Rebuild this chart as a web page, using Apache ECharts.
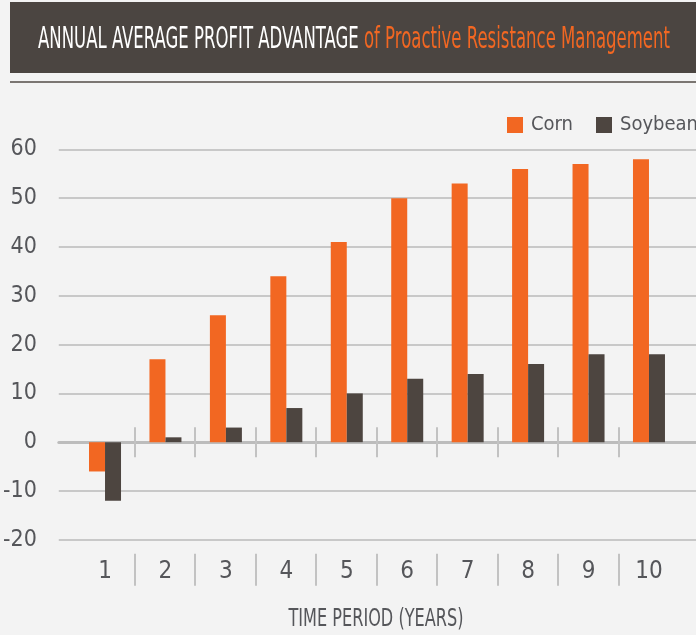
<!DOCTYPE html>
<html>
<head>
<meta charset="utf-8">
<script src="https://cdn.jsdelivr.net/npm/echarts@6/dist/echarts.min.js"></script>
<style>
  html, body {margin: 0; padding: 0; background: #f3f3f3;}
  #main {width: 696px; height: 635px;}
</style>
</head>
<body>
<div id="main"></div>
<script>
// data
let years = ['1', '2', '3', '4', '5', '6', '7', '8', '9', '10'];
let corn = [-6, 17, 26, 34, 41, 50, 53, 56, 57, 58];
let soybeans = [-12, 1, 3, 7, 10, 13, 14, 16, 18, 18];
let yMin = -20, yMax = 60, yStep = 10;

let titleWhite = 'ANNUAL AVERAGE PROFIT ADVANTAGE';
let titleOrange = 'of Proactive Resistance Management';
let xName = 'TIME PERIOD (YEARS)';

let narrow = "'Liberation Sans Narrow', 'DejaVu Sans Condensed', 'Roboto', sans-serif";
let orange = '#f26722';
let brown = '#4d4540';
let grey = '#55565a';
let lineGrey = '#c8c8c8';

// measure text so the condensed headings can be squeezed to their width
let ctx = document.createElement('canvas').getContext('2d');
function textWidth(str, size) {
    ctx.font = size + 'px ' + narrow;
    return ctx.measureText(str).width;
}
let titleSize = 31;
let titleW = textWidth(titleWhite + ' ' + titleOrange, titleSize);
let titleScale = (670 - 38) / titleW;
let nameSize = 25;
let nameScale = (464 - 289) / textWidth(xName, nameSize);

let gTop = 149.4, gBottom = 635 - 539.8;
let yHidden = {
    type: 'value', min: yMin, max: yMax, interval: yStep,
    axisLine: {show: false}, axisTick: {show: false},
    axisLabel: {show: false}, splitLine: {show: false}
};
// value axis that only draws the separators between categories 1..10
let tickAxis = function (grid, pos, len, onZero, offset) {
    return {
        type: 'value', gridIndex: grid, min: 1, max: 9, interval: 1,
        position: pos, offset: offset || 0,
        axisLine: {show: true, onZero: onZero, lineStyle: {color: 'rgba(0,0,0,0)'}},
        axisTick: {show: true, length: len, lineStyle: {color: '#c2c2c2', width: 2}},
        axisLabel: {show: false}, splitLine: {show: false}
    };
};
let legendBase = {
    top: 110, icon: 'rect', itemWidth: 16, itemHeight: 16,
    textStyle: {fontFamily: narrow, fontSize: 20, color: grey, padding: [0, 0, 0, 3]}
};
let sepGrid = {left: 134.6, right: 77.5, top: gTop, bottom: gBottom};

let chart = echarts.init(document.getElementById('main'));
chart.setOption({
    backgroundColor: '#f3f3f3',
    animation: false,
    grid: [
        {left: 57, right: 0, top: gTop, bottom: gBottom},
        {left: 74.8, right: 16.8, top: gTop, bottom: gBottom},
        sepGrid,
        Object.assign({}, sepGrid)
    ],
    legend: [
        Object.assign({left: 502, data: ['Corn']}, legendBase),
        Object.assign({left: 591, data: ['Soybeans']}, legendBase)
    ],
    xAxis: [
        // zero line across the full width
        {
            type: 'value', gridIndex: 0, min: 0, max: 1,
            axisLine: {onZero: true, lineStyle: {color: '#bcbcbc', width: 3}},
            axisTick: {show: false}, axisLabel: {show: false}, splitLine: {show: false}
        },
        // categories for the bars
        {
            type: 'category', gridIndex: 1, data: years, position: 'bottom',
            axisLine: {show: false, onZero: false}, axisTick: {show: false},
            axisLabel: {fontFamily: narrow, fontSize: 24, color: grey, margin: 20}
        },
        tickAxis(2, 'top', 15, true),
        tickAxis(3, 'bottom', 15, true),
        tickAxis(2, 'bottom', 32, false, 14)
    ],
    yAxis: [
        {
            type: 'value', gridIndex: 0, min: yMin, max: yMax, interval: yStep,
            axisLine: {show: false}, axisTick: {show: false},
            axisLabel: {fontFamily: narrow, fontSize: 23, color: grey, margin: 22},
            splitLine: {lineStyle: {color: lineGrey, width: 2}}
        },
        Object.assign({gridIndex: 1}, yHidden),
        Object.assign({gridIndex: 2}, yHidden),
        Object.assign({gridIndex: 3}, yHidden)
    ],
    series: [
        {
            name: 'Corn', type: 'bar', xAxisIndex: 1, yAxisIndex: 1,
            data: corn, barWidth: 16, barGap: '0%', itemStyle: {color: orange}
        },
        {
            name: 'Soybeans', type: 'bar', xAxisIndex: 1, yAxisIndex: 1,
            data: soybeans, barWidth: 16, barGap: '0%', itemStyle: {color: brown}
        }
    ],
    graphic: [
        {type: 'rect', left: 10, top: 2, shape: {width: 686, height: 71}, style: {fill: '#4b4541'}},
        {type: 'rect', left: 10, top: 81, shape: {width: 686, height: 2}, style: {fill: '#7b7672'}},
        {
            type: 'text', x: 38, y: 40, scaleX: titleScale,
            style: {
                text: '{w|' + titleWhite + '} {o|' + titleOrange + '}',
                verticalAlign: 'middle', textAlign: 'left',
                rich: {
                    w: {fontFamily: narrow, fontSize: titleSize, fill: '#ffffff', color: '#ffffff'},
                    o: {fontFamily: narrow, fontSize: titleSize, fill: orange, color: orange}
                },
                font: titleSize + 'px ' + narrow, fill: '#ffffff'
            }
        },
        {
            type: 'text', x: 376, y: 619, scaleX: nameScale,
            style: {
                text: xName, font: nameSize + 'px ' + narrow, fill: grey,
                textAlign: 'center', verticalAlign: 'middle'
            }
        }
    ]
});
</script>
</body>
</html>
